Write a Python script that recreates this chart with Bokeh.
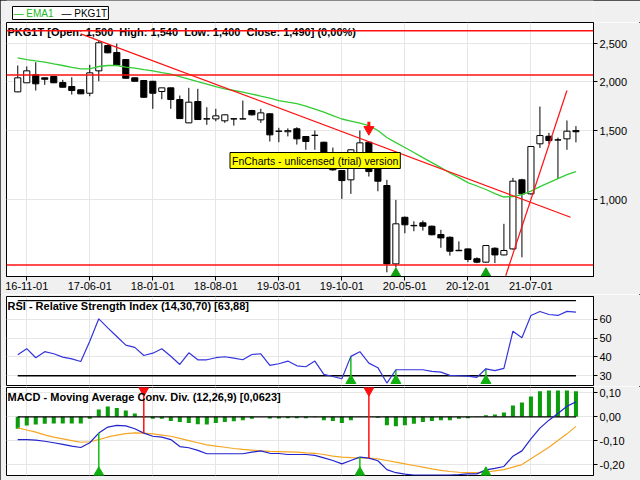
import numpy as np
from bokeh.plotting import figure
from bokeh.models import (Range1d, FixedTicker, NumeralTickFormatter, CustomJSTickFormatter,
                          Label, Span, ColumnDataSource)
from bokeh.layouts import column
from bokeh.embed import file_html
from bokeh.resources import INLINE

# ---------------- data (monthly, Oct 2016 .. Dec 2021) ----------------
opens = [1884, 1987, 2082, 2046, 2062, 1990, 1944, 1907, 1869, 2132,
         2474, 2374, 2278, 2046, 2014, 2005, 1888, 1929, 1801, 1570,
         1780, 1608, 1607, 1589, 1608, 1606, 1688, 1598, 1656, 1496,
         1490, 1516, 1449, 1460, 1401, 1240, 1186, 1123, 1313, 1401,
         1209, 1086, 685, 901, 859, 872, 855, 814, 801, 742,
         748, 706, 692, 751, 722, 748, 1123, 1034, 1388, 1451,
         1421, 1429, 1500]
highs = [2200, 2187, 2243, 2046, 2066, 2022, 2053, 1910, 2209, 2548,
         2490, 2503, 2282, 2050, 2016, 2010, 1930, 1932, 1844, 1929,
         1918, 1721, 1705, 1650, 1610, 1790, 1695, 1705, 1660, 1525,
         1520, 1530, 1452, 1501, 1405, 1358, 1190, 1345, 1501, 1405,
         1212, 1123, 998, 905, 880, 884, 858, 837, 805, 782,
         750, 712, 765, 755, 867, 1136, 1130, 1370, 1728, 1480,
         1440, 1592, 1540]
lows = [1880, 1985, 1899, 1963, 1985, 1933, 1854, 1860, 1836, 2005,
        2365, 2200, 2040, 2003, 1820, 1705, 1804, 1705, 1608, 1568,
        1598, 1552, 1585, 1570, 1545, 1605, 1640, 1570, 1407, 1401,
        1450, 1382, 1340, 1340, 1245, 1185, 1004, 1034, 1310, 1145,
        1050, 652, 671, 820, 830, 833, 810, 753, 719, 740,
        692, 688, 690, 688, 720, 745, 712, 1030, 1355, 1388,
        1130, 1340, 1400]
closes = [2046, 2132, 1975, 2029, 1987, 1936, 1899, 1862, 2107, 2514,
          2370, 2206, 2041, 2005, 1825, 1869, 1929, 1801, 1610, 1773,
          1601, 1606, 1636, 1646, 1606, 1608, 1646, 1665, 1463, 1494,
          1500, 1429, 1407, 1458, 1250, 1191, 1118, 1340, 1396, 1179,
          1114, 685, 867, 862, 857, 855, 813, 798, 738, 740,
          703, 692, 763, 722, 741, 1114, 1034, 1366, 1457, 1415,
          1419, 1495, 1490]
ema1 = [2301, 2278, 2261, 2245, 2222, 2200, 2176, 2157, 2157, 2187,
        2200, 2200, 2180, 2165, 2148, 2132, 2111, 2092, 2062, 2032,
        2002, 1973, 1944, 1918, 1899, 1880, 1860, 1838, 1817, 1790,
        1774, 1759, 1733, 1703, 1673, 1639, 1606, 1587, 1568, 1545,
        1501, 1440, 1398, 1358, 1319, 1280, 1243, 1207, 1169, 1138,
        1105, 1083, 1061, 1036, 1015, 1018, 1030, 1051, 1079, 1105,
        1131, 1158, 1179]
rsi = [41.2, 44.4, 39.6, 42.8, 41.7, 39.9, 39.0, 37.6, 48.4, 60.3,
       55.5, 50.9, 46.3, 45.1, 40.8, 42.0, 44.4, 40.4, 36.0, 42.2,
       38.5, 38.5, 39.6, 40.1, 39.4, 38.5, 41.3, 41.7, 35.5, 36.4,
       37.8, 35.3, 34.8, 37.8, 30.7, 29.6, 28.4, 40.3, 42.8, 36.7,
       34.3, 26.1, 33.2, 33.2, 33.2, 33.2, 32.3, 31.9, 30.2, 30.0,
       29.8, 29.1, 33.7, 32.7, 33.9, 53.7, 50.2, 62.1, 64.2, 62.6,
       62.1, 64.3, 63.88]
macd = [-0.095, -0.095, -0.097, -0.102, -0.108, -0.115, -0.122, -0.128, -0.108, -0.068,
        -0.043, -0.036, -0.038, -0.050, -0.068, -0.081, -0.085, -0.095, -0.124, -0.129,
        -0.140, -0.154, -0.154, -0.154, -0.154, -0.154, -0.147, -0.142, -0.152, -0.153,
        -0.157, -0.157, -0.157, -0.161, -0.171, -0.182, -0.196, -0.182, -0.168, -0.172,
        -0.183, -0.220, -0.233, -0.239, -0.243, -0.243, -0.243, -0.243, -0.243, -0.241,
        -0.238, -0.238, -0.221, -0.215, -0.207, -0.164, -0.142, -0.092, -0.047, -0.014,
        0.014, 0.044, 0.0623]
signal = [-0.046, -0.055, -0.064, -0.075, -0.085, -0.092, -0.099, -0.106, -0.104, -0.095,
          -0.084, -0.076, -0.070, -0.067, -0.068, -0.071, -0.076, -0.081, -0.090, -0.099,
          -0.108, -0.117, -0.122, -0.127, -0.132, -0.136, -0.139, -0.142, -0.144, -0.145,
          -0.146, -0.147, -0.150, -0.152, -0.157, -0.164, -0.168, -0.170, -0.171, -0.172,
          -0.175, -0.182, -0.189, -0.196, -0.203, -0.210, -0.217, -0.223, -0.228, -0.231,
          -0.233, -0.233, -0.230, -0.225, -0.220, -0.210, -0.199, -0.175, -0.151, -0.127,
          -0.099, -0.071, -0.040]
hist = [-0.050, -0.036, -0.032, -0.029, -0.028, -0.028, -0.028, -0.028, -0.008, 0.030,
        0.043, 0.037, 0.026, 0.014, -0.002, -0.008, -0.008, -0.017, -0.022, -0.026,
        -0.031, -0.032, -0.026, -0.022, -0.019, -0.014, -0.008, 0.000, -0.007, -0.007,
        -0.006, -0.006, -0.006, -0.002, -0.014, -0.018, -0.026, -0.014, -0.001, -0.001,
        -0.004, -0.035, -0.039, -0.035, -0.029, -0.022, -0.017, -0.014, -0.014, -0.008,
        -0.006, -0.001, 0.006, 0.010, 0.018, 0.047, 0.060, 0.085, 0.106, 0.110,
        0.110, 0.110, 0.106]

tick_idx = [1, 8, 15, 22, 29, 36, 43, 50, 57]
tick_labels = ["16-11-01", "17-06-01", "18-01-01", "18-08-01", "19-03-01",
               "19-10-01", "20-05-01", "20-12-01", "21-07-01"]
price_ticks = [1000, 1500, 2000, 2500]
rsi_ticks = [30, 40, 50, 60]
macd_ticks = [0.1, 0.0, -0.1, -0.2]

hlines = [2700, 2080, 681]
trend_down_x = [7.0, 61.4]
trend_down_y = [2650, 901]
trend_up_x = [54.2, 61.0]
trend_up_y = [639, 1899]

price_sell = [39]
price_buy = [42, 52]
rsi_buy = [37, 42, 52]
rsi_levels = [30, 70]
macd_buy = [9, 38, 52]
macd_sell = [14, 39]

NB = "\u00a0"
title_main = f"PKG1T [Open: 1,500{NB} High: 1,540{NB} Low: 1,400{NB} Close: 1,490] (0,00%)"
title_rsi = "RSI - Relative Strength Index (14,30,70) [63,88]"
title_macd = "MACD - Moving Average Conv. Div. (12,26,9) [0,0623]"
watermark = "FnCharts - unlicensed (trial) version"
legend_names = ["EMA1", "PKG1T"]

# ---------------- styling ----------------
W = 640
FONT = "Liberation Sans"
BG = "#f0f0f0"
GRID = "#e6e6e6"
GREEN_EMA = "#33cc33"
RED = "#ff1010"
n = len(closes)
x = list(range(n))
xr = Range1d(-1.25, 63.95)


def base_fig(height, y_range, top, bottom, y_type="linear", x_loc=None):
    p = figure(width=W, height=height, x_range=xr, y_range=y_range, y_axis_type=y_type,
               y_axis_location="right", x_axis_location=x_loc, toolbar_location=None,
               output_backend="svg", min_border_left=6, min_border_right=47,
               min_border_top=top, min_border_bottom=bottom)
    p.border_fill_color = BG
    p.background_fill_color = "white"
    p.outline_line_color = "black"
    p.outline_line_width = 1
    p.xgrid.ticker = FixedTicker(ticks=tick_idx)
    p.xgrid.grid_line_color = GRID
    p.ygrid.grid_line_color = GRID
    for ax in p.yaxis:
        ax.major_label_text_font = FONT
        ax.major_label_text_font_size = "11px"
        ax.major_label_text_color = "black"
        ax.major_tick_out = 4
        ax.major_tick_in = 0
        ax.minor_tick_line_color = None
        ax.axis_line_color = "black"
        ax.major_tick_line_color = "black"
        ax.major_label_standoff = 2
    return p


def add_title(p, fh, text):
    p.add_layout(Label(x=1, y=fh - 3, x_units="screen", y_units="screen", text=text,
                       text_font=FONT, text_font_size="11px", text_font_style="bold",
                       text_color="black", text_baseline="top"))


# ---------------- legend strip ----------------
H0 = 22
p0 = figure(width=W, height=H0, x_range=Range1d(0, 1), y_range=Range1d(0, 1),
            x_axis_location=None, y_axis_location=None, toolbar_location=None,
            output_backend="svg", min_border=0)
p0.grid.visible = False
p0.outline_line_color = None
p0.background_fill_color = BG
p0.border_fill_color = BG
leg_y = H0 - 6
p0.add_layout(Label(x=6, y=leg_y, x_units="screen", y_units="screen",
                    text=f"— {legend_names[0]}{NB}{NB} — {legend_names[1]}",
                    text_font=FONT, text_font_size="10px", text_color="white", text_baseline="top",
                    background_fill_color="white", border_line_color="black", padding=1))
p0.add_layout(Label(x=6, y=leg_y, x_units="screen", y_units="screen", text=f"— {legend_names[0]}",
                    text_font=FONT, text_font_size="10px", text_color="#22bb22",
                    text_baseline="top", padding=1))
p0.add_layout(Label(x=54, y=leg_y, x_units="screen", y_units="screen", text=f"— {legend_names[1]}",
                    text_font=FONT, text_font_size="10px", text_color="black",
                    text_baseline="top", padding=1))

# ---------------- main price panel ----------------
H1, T1, B1 = 272, 0, 18
FH1 = H1 - T1 - B1
p1 = base_fig(H1, Range1d(636, 2833), T1, B1, y_type="log", x_loc="below")
p1.yaxis.ticker = FixedTicker(ticks=price_ticks)
p1.ygrid.ticker = FixedTicker(ticks=price_ticks)
p1.yaxis.formatter = NumeralTickFormatter(format="0,0")
xa = p1.xaxis[0]
xa.ticker = FixedTicker(ticks=tick_idx)
xa.major_label_overrides = dict(zip(tick_idx, tick_labels))
xa.major_label_text_font = FONT
xa.major_label_text_font_size = "11px"
xa.major_label_text_color = "black"
xa.major_tick_out = 4
xa.major_tick_in = 0
xa.minor_tick_line_color = None
xa.axis_line_color = "black"
xa.major_label_standoff = 1

src = ColumnDataSource(dict(
    x=x, high=highs, low=lows,
    top=[max(o, c) for o, c in zip(opens, closes)],
    bottom=[min(o, c) for o, c in zip(opens, closes)],
    fill=["white" if c >= o else "black" for o, c in zip(opens, closes)],
))
p1.segment(x0="x", y0="low", x1="x", y1="high", source=src, line_color="black", line_width=1)
p1.vbar(x="x", width=0.68, top="top", bottom="bottom", source=src,
        fill_color="fill", line_color="black", line_width=1)
p1.line(x, ema1, line_color=GREEN_EMA, line_width=1.3)
p1.line(trend_down_x, trend_down_y, line_color=RED, line_width=1.2)
p1.line(trend_up_x, trend_up_y, line_color=RED, line_width=1.2)

# signal arrows on price chart
sx = price_sell
p1.segment(x0=sx, x1=sx, y0=[highs[i] * 1.095 for i in sx], y1=[highs[i] * 1.125 for i in sx],
           line_color=RED, line_width=3)
p1.scatter(sx, [highs[i] * 1.075 for i in sx], marker="inverted_triangle", size=10,
           fill_color=RED, line_color=RED)
bx = price_buy
p1.scatter(bx, [hlines[2] / 1.052 for _ in bx], marker="triangle", size=10,
           fill_color="#10a010", line_color="#10a010")

add_title(p1, FH1, title_main)
for lv in hlines:
    p1.add_layout(Span(location=lv, dimension="width", line_color=RED, line_width=1.5))

p1.add_layout(Label(x=223.5, y=FH1 - 130, x_units="screen", y_units="screen", text=watermark,
                    text_font=FONT, text_font_size="10.5px", text_color="black",
                    text_baseline="top", background_fill_color="yellow",
                    border_line_color="black", padding=2))

# ---------------- RSI panel ----------------
H2, T2, B2 = 92, 2, 1
FH2 = H2 - T2 - B2
p2 = base_fig(H2, Range1d(24.8, 72.2), T2, B2)
p2.yaxis.ticker = FixedTicker(ticks=rsi_ticks)
p2.ygrid.ticker = FixedTicker(ticks=rsi_ticks)
for lv in rsi_levels:
    p2.line([x[0], x[-1]], [lv, lv], line_color="black", line_width=1.3)
p2.segment(x0=rsi_buy, x1=rsi_buy, y0=[rsi_levels[0]] * len(rsi_buy), y1=[rsi[i] for i in rsi_buy],
           line_color="#11c011", line_width=1.5)
p2.scatter(rsi_buy, [rsi_levels[0] - 2.6] * len(rsi_buy), marker="triangle", size=10,
           fill_color="#11b011", line_color="#11b011")
p2.line(x, rsi, line_color="#3333dd", line_width=1.2)
add_title(p2, FH2, title_rsi)

# ---------------- MACD panel ----------------
H3, T3, B3 = 94, 1, 5
FH3 = H3 - T3 - B3
mr = Range1d(-0.2446, 0.1221)
p3 = base_fig(H3, mr, T3, B3)
p3.yaxis.ticker = FixedTicker(ticks=macd_ticks)
p3.ygrid.ticker = FixedTicker(ticks=macd_ticks)
p3.yaxis.formatter = CustomJSTickFormatter(code="return tick.toFixed(2).replace('.', ',');")
p3.vbar(x=x, width=0.45, top=hist, bottom=0, fill_color="#0c9c0c", line_color=None)
p3.line([x[0], x[-1]], [0, 0], line_color="black", line_width=1.3)
p3.line(x, signal, line_color="#f5a623", line_width=1.2)
p3.line(x, macd, line_color="#2424cc", line_width=1.2)
p3.segment(x0=macd_buy, x1=macd_buy, y0=[mr.start] * len(macd_buy), y1=[macd[i] for i in macd_buy],
           line_color="#11c011", line_width=1.5)
p3.scatter(macd_buy, [mr.start + 0.012] * len(macd_buy), marker="triangle", size=10,
           fill_color="#11b011", line_color="#11b011")
p3.segment(x0=macd_sell, x1=macd_sell, y0=[mr.end] * len(macd_sell), y1=[macd[i] for i in macd_sell],
           line_color=RED, line_width=1.5)
p3.scatter(macd_sell, [mr.end - 0.012] * len(macd_sell), marker="inverted_triangle", size=10,
           fill_color=RED, line_color=RED)
add_title(p3, FH3, title_macd)

layout = column(p0, p1, p2, p3, spacing=0,
                styles={"outline": "1px solid #222", "outline-offset": "-1px"})
open("out.html", "w").write(file_html(layout, INLINE))
